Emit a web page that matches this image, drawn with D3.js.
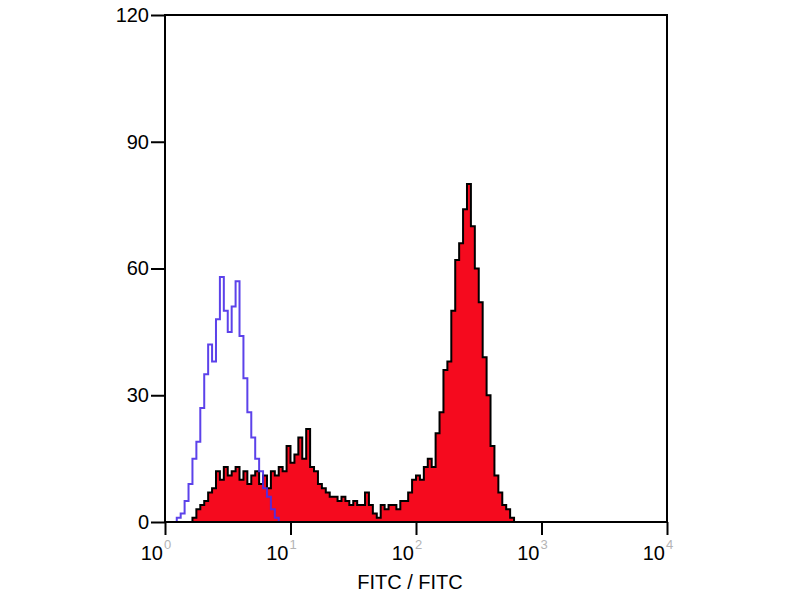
<!DOCTYPE html>
<html>
<head>
<meta charset="utf-8">
<script src="https://cdn.jsdelivr.net/npm/d3@7/dist/d3.min.js"></script>
<style>
  body { margin: 0; background: #fff; }
  svg { display: block; }
  text { font-family: "Liberation Sans", Arial, sans-serif; }
</style>
</head>
<body>
<svg id="chart" width="800" height="600"></svg>
<script>
// ---- data ----
const channelsPerDecade = 32;
const xTickExponents = [0, 1, 2, 3, 4];
const yTicks = [0, 30, 60, 90, 120];
const xTitle = "FITC / FITC";

// isotype control (blue outline), starting at channel 3
const blueStart = 3;
const blueCounts = [1, 2, 5, 9, 15, 19, 27, 35, 42, 38, 48, 58, 50, 45, 51, 57, 44, 34, 26, 20, 15, 12, 8, 6, 3, 1];

// stained sample (red filled), starting at channel 7
const redStart = 7;
const redCounts = [
  1, 3, 4, 5, 7, 8, 12, 10, 13, 11, 12, 13, 10, 12, 9, 11, 12, 9, 11, 8,
  12, 11, 13, 12, 18, 14, 16, 20, 15, 22, 13, 12, 9, 8, 7, 6, 6, 5, 6, 5,
  4, 5, 4, 4, 7, 4, 2, 1, 4, 3, 4, 4, 3, 5, 5, 7, 10, 11, 10, 13,
  15, 13, 21, 26, 36, 38, 50, 62, 66, 74, 80, 70, 60, 52, 39, 30, 18, 11, 7, 4,
  3, 1
];

// ---- chart ----
(function () {
const svg = d3.select("#chart");
const mLeft = 165, mRight = 667, mTop = 15, mBottom = 522;

const x = d3.scaleLog().domain([1, 1e4]).range([mLeft, mRight]);
const y = d3.scaleLinear().domain([0, 120]).range([mBottom, mTop]);

const edge = c => Math.pow(10, c / channelsPerDecade);

function stepPoints(start, counts) {
  const pts = [[edge(start), 0]];
  counts.forEach((v, i) => pts.push([edge(start + i), v]));
  pts.push([edge(start + counts.length), 0]);
  return pts;
}

const redPts = stepPoints(redStart, redCounts);
const bluePts = stepPoints(blueStart, blueCounts);

svg.append("clipPath").attr("id", "clip")
  .append("rect").attr("x", mLeft).attr("y", mTop).attr("width", mRight - mLeft).attr("height", mBottom - mTop);

const g = svg.append("g").attr("clip-path", "url(#clip)");

const area = d3.area().x(d => x(d[0])).y0(y(0)).y1(d => y(d[1])).curve(d3.curveStepAfter);
const line = d3.line().x(d => x(d[0])).y(d => y(d[1])).curve(d3.curveStepAfter);

g.append("path").datum(redPts).attr("d", area).attr("fill", "#f50a1e");
g.append("path").datum(redPts).attr("d", line).attr("fill", "none")
  .attr("stroke", "#000").attr("stroke-width", 2).attr("stroke-linejoin", "miter");
g.append("path").datum(bluePts).attr("d", line).attr("fill", "none")
  .attr("stroke", "#4a2ee8").attr("stroke-width", 2).attr("opacity", 0.9);

// frame
svg.append("rect").attr("x", mLeft).attr("y", mTop).attr("width", mRight - mLeft).attr("height", mBottom - mTop)
  .attr("fill", "none").attr("stroke", "#000").attr("stroke-width", 2);

// y axis
const yAxis = d3.axisLeft(y).tickValues(yTicks).tickSize(14).tickPadding(2);
const ya = svg.append("g").attr("transform", `translate(${mLeft},0)`).call(yAxis);
ya.select(".domain").remove();
ya.selectAll("line").attr("stroke", "#000").attr("stroke-width", 2);
ya.selectAll("text").attr("font-size", 20).attr("fill", "#000")
  .attr("font-family", "'Liberation Sans', Arial, sans-serif");

// x axis
const xAxis = d3.axisBottom(x).tickValues(xTickExponents.map(e => Math.pow(10, e))).tickSize(13).tickFormat("");
const xa = svg.append("g").attr("transform", `translate(0,${mBottom})`).call(xAxis);
xa.select(".domain").remove();
xa.selectAll("line").attr("stroke", "#000").attr("stroke-width", 2);

const lbl = svg.append("g");
xTickExponents.forEach(e => {
  const tx = x(Math.pow(10, e));
  lbl.append("text").attr("x", tx - 2).attr("y", 560).attr("text-anchor", "end")
    .attr("font-size", 20).attr("fill", "#000").text("10");
  lbl.append("text").attr("x", tx - 1).attr("y", 549).attr("text-anchor", "start")
    .attr("font-size", 13).attr("fill", "#b4b4b4").text(String(e));
});

svg.append("text").attr("x", 410).attr("y", 589).attr("text-anchor", "middle")
  .attr("font-size", 20).attr("fill", "#000").text(xTitle);
})();
</script>
</body>
</html>
